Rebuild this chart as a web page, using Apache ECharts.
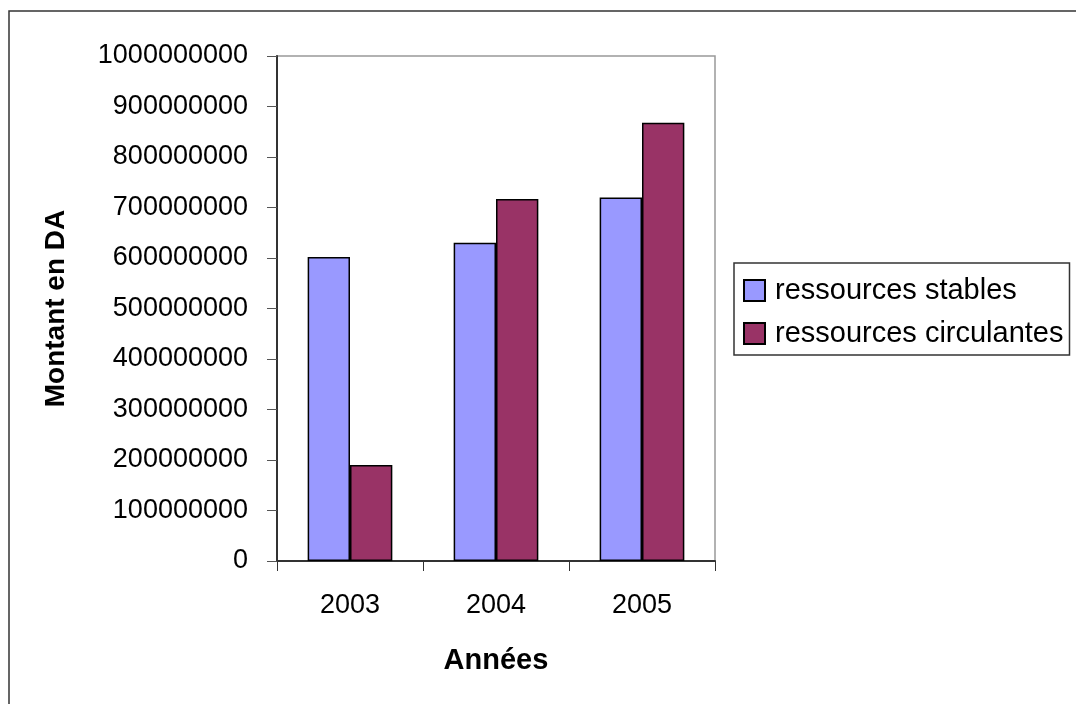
<!DOCTYPE html>
<html>
<head>
<meta charset="utf-8">
<script src="https://cdn.jsdelivr.net/npm/echarts@6/dist/echarts.min.js"></script>
<style>
  html, body { margin: 0; padding: 0; background: #fff; }
  #chart { width: 1076px; height: 704px; }
</style>
</head>
<body>
<div id="chart"></div>
<script>
const years = ['2003', '2004', '2005'];
const stables = [602000000, 630000000, 720000000];
const circulantes = [190000000, 717000000, 868000000];

const chart = echarts.init(document.getElementById('chart'));
const font = 'Liberation Sans, Arial, sans-serif';

chart.setOption({
  backgroundColor: '#fff',
  animation: false,
  graphic: [{
    type: 'rect',
    shape: { x: 9, y: 11, width: 1090, height: 720 },
    style: { fill: 'none', stroke: '#333', lineWidth: 1.5 },
    silent: true
  }],
  grid: {
    left: 277, top: 56, width: 438, height: 505,
    show: true, borderColor: '#999', borderWidth: 1.5
  },
  legend: {
    orient: 'vertical',
    left: 734, top: 263,
    padding: [13, 6, 7, 9],
    borderColor: '#333', borderWidth: 1.5,
    itemWidth: 21, itemHeight: 21, itemGap: 14,
    icon: 'rect',
    textStyle: { fontFamily: font, fontSize: 29, color: '#000', lineHeight: 29, padding: [0, 0, 0, 5] },
    data: ['ressources stables', 'ressources circulantes']
  },
  xAxis: {
    type: 'category',
    data: years,
    name: 'Années',
    nameLocation: 'middle',
    nameGap: 85,
    nameTextStyle: { fontFamily: font, fontSize: 29, fontWeight: 'bold', color: '#000' },
    axisLine: { lineStyle: { color: '#333', width: 2 } },
    axisTick: { show: true, length: 10, lineStyle: { color: '#333' } },
    axisLabel: { fontFamily: font, fontSize: 27, color: '#000', margin: 31 }
  },
  yAxis: {
    type: 'value',
    min: 0, max: 1000000000, interval: 100000000,
    name: 'Montant en DA',
    nameLocation: 'middle',
    nameRotate: 90,
    nameGap: 207,
    nameTextStyle: { fontFamily: font, fontSize: 28, fontWeight: 'bold', color: '#000' },
    axisLine: { show: true, lineStyle: { color: '#333', width: 2 } },
    axisTick: { show: true, length: 10, lineStyle: { color: '#555' } },
    splitLine: { show: false },
    axisLabel: {
      fontFamily: font, fontSize: 27, color: '#000', margin: 29,
      formatter: v => String(v)
    }
  },
  series: [
    {
      name: 'ressources stables',
      type: 'bar',
      data: stables,
      barGap: '0%',
      barCategoryGap: '42%',
      itemStyle: { color: '#9999FF', borderColor: '#000', borderWidth: 1.5 }
    },
    {
      name: 'ressources circulantes',
      type: 'bar',
      data: circulantes,
      barGap: '0%',
      barCategoryGap: '42%',
      itemStyle: { color: '#993366', borderColor: '#000', borderWidth: 1.5 }
    }
  ]
});
</script>
</body>
</html>
